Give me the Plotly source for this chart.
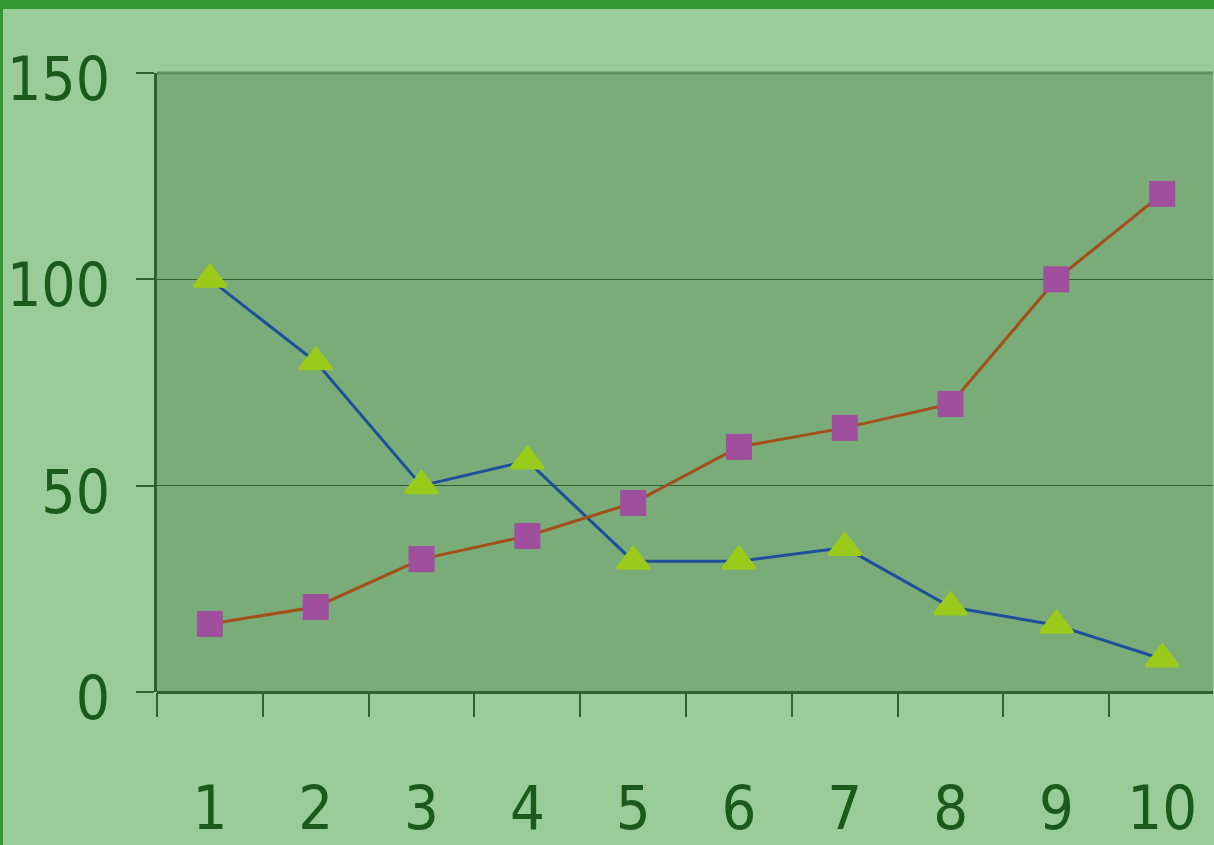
import plotly.graph_objects as go

categories = ["1", "2", "3", "4", "5", "6", "7", "8", "9", "10"]
series_a = [100, 80, 50, 56, 31.7, 31.7, 35, 20.6, 16.2, 8]
series_b = [16.5, 20.6, 32.2, 37.8, 45.8, 59.4, 64, 69.8, 100, 120.7]
y_ticks = [0, 50, 100, 150]

TEXT = "#1b5a1b"
FONT = "DejaVu Sans Condensed, Liberation Sans Narrow, sans-serif"

W, H = 1214, 845
ML, MR, MT, MB = 157, 1, 73, 153
PW, PH = W - ML - MR, H - MT - MB

fig = go.Figure()

fig.add_trace(
    go.Scatter(
        x=categories,
        y=series_a,
        mode="lines+markers",
        line=dict(color="#1f4f9a", width=3),
        marker=dict(symbol="triangle-up", size=28, color="#9acb1a",
                    line=dict(color="#9acb1a", width=3)),
        showlegend=False,
    )
)
fig.add_trace(
    go.Scatter(
        x=categories,
        y=series_b,
        mode="lines+markers",
        line=dict(color="#a34f1a", width=3),
        marker=dict(symbol="square", size=26, color="#a04e9e"),
        showlegend=False,
    )
)

# plot area top edge
fig.add_shape(
    type="line", xref="x domain", yref="y domain",
    x0=0, x1=1, y0=1, y1=1,
    line=dict(color="#5e8f5e", width=3), layer="above",
)
# outer dark green frame (top and left)
fig.add_shape(
    type="rect", xref="paper", yref="paper",
    x0=-ML / PW, x1=1 + MR / PW, y0=1 + (MT - 9) / PH, y1=1 + MT / PH,
    fillcolor="#339933", line=dict(width=0), layer="below",
)
fig.add_shape(
    type="rect", xref="paper", yref="paper",
    x0=-ML / PW, x1=-(ML - 3) / PW, y0=-MB / PH, y1=1 + MT / PH,
    fillcolor="#339933", line=dict(width=0), layer="below",
)

fig.update_layout(
    width=W,
    height=H,
    paper_bgcolor="#99cc99",
    plot_bgcolor="#7aac7a",
    margin=dict(l=ML, r=MR, t=MT, b=MB, pad=0),
    font=dict(family=FONT, color=TEXT),
    xaxis=dict(
        type="category",
        range=[-0.5, 9.48],
        tickson="boundaries",
        ticks="outside",
        ticklen=24,
        tickwidth=2,
        tickcolor="#2e632e",
        tickfont=dict(size=61, family=FONT, color=TEXT),
        ticklabelstandoff=75,
        showgrid=False,
        showline=False,
        zeroline=False,
        automargin=False,
    ),
    yaxis=dict(
        range=[0, 150],
        tickvals=y_ticks,
        ticks="outside",
        ticklen=18,
        tickwidth=2,
        tickcolor="#2e632e",
        tickfont=dict(size=60, family=FONT, color=TEXT),
        ticklabelstandoff=14,
        ticklabelshift=6,
        showgrid=True,
        gridcolor="#2e632e",
        gridwidth=1,
        showline=True,
        linecolor="#2e632e",
        linewidth=3,
        zeroline=True,
        zerolinecolor="#2e632e",
        zerolinewidth=3,
        automargin=False,
    ),
)

fig.write_html(
    "out.html",
    config={"displayModeBar": False},
    post_script="document.body.style.margin='0';",
)
